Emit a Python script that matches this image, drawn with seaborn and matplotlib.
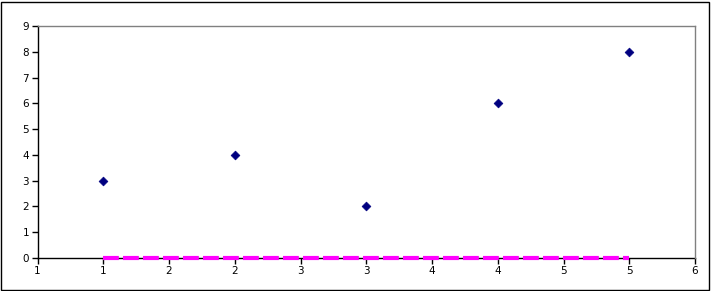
import matplotlib
matplotlib.use("Agg")
import matplotlib.pyplot as plt
import matplotlib.ticker as mticker
from matplotlib.patches import Rectangle
import seaborn as sns
import pandas as pd
import math

x_vals = [1, 2, 3, 4, 5]
y_vals = [3, 4, 2, 6, 8]
line_x = [1, 5]
line_y = [0, 0]

sns.set_style("white")
plt.rcParams['font.family'] = ['DejaVu Sans']

fig = plt.figure(figsize=(7.11, 2.91), dpi=100)
W, H = 711, 291
ax = fig.add_axes([37.5 / W, (H - 258) / H, (695 - 37.5) / W, (258 - 26) / H])

pts = pd.DataFrame({"x": x_vals, "y": y_vals})
ln = pd.DataFrame({"x": line_x, "y": line_y})

sns.lineplot(data=ln, x="x", y="y", ax=ax, color="#ff00ff", linewidth=3,
             dashes=False, zorder=3, clip_on=False)
ax.lines[-1].set_dashes((3.8, 1.0))
ax.lines[-1].set_solid_capstyle("butt")
ax.lines[-1].set_dash_capstyle("butt")
sns.scatterplot(data=pts, x="x", y="y", ax=ax, marker="D", s=20, color="#000080",
                edgecolor="#000080", linewidth=0.5, zorder=4)

ax.set_xlim(0.5, 5.5)
ax.set_ylim(0, 9)
ax.xaxis.set_major_locator(mticker.MultipleLocator(0.5))
ax.yaxis.set_major_locator(mticker.MultipleLocator(1))
ax.xaxis.set_major_formatter(mticker.FuncFormatter(lambda v, p: str(int(math.floor(v + 0.5 + 1e-9)))))
ax.set_xlabel("")
ax.set_ylabel("")
ax.tick_params(axis="both", direction="out", length=4, width=1, color="black",
               labelcolor="black", labelsize=7.5, pad=2, bottom=True, left=True)
for side in ["top", "right"]:
    ax.spines[side].set_color("#808080")
    ax.spines[side].set_linewidth(1)
for side in ["bottom", "left"]:
    ax.spines[side].set_color("black")
    ax.spines[side].set_linewidth(1)
    ax.spines[side].set_zorder(2)

fig.patches.append(Rectangle((0.5 / W, 1.5 / H), (709 - 0.5) / W, (289 - 1.5) / H,
                             transform=fig.transFigure, fill=False,
                             edgecolor="black", linewidth=1))

fig.savefig("out.png", dpi=100)
